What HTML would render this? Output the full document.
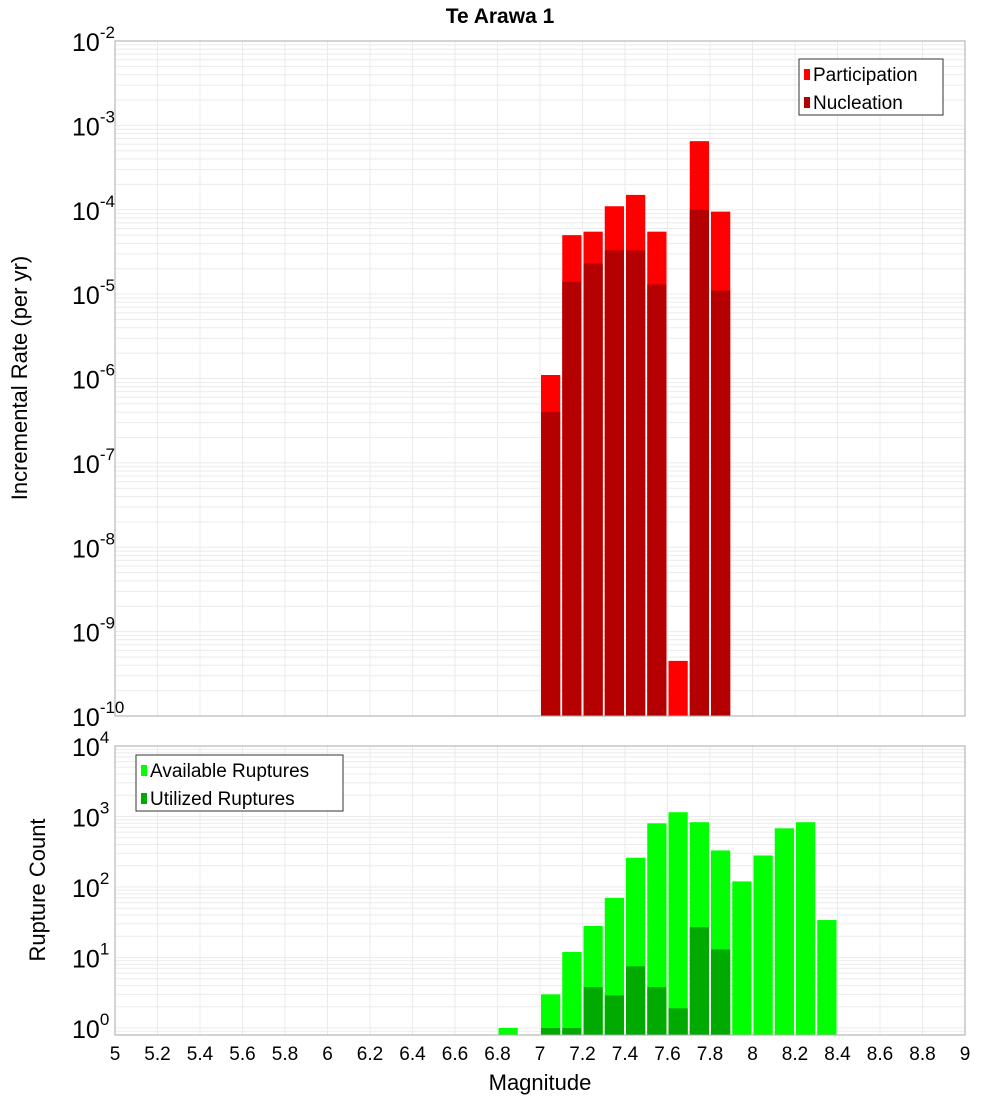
<!DOCTYPE html>
<html><head><meta charset="utf-8"><style>
body{margin:0;background:#fff;}
svg{font-family:"Liberation Sans","DejaVu Sans",sans-serif;}
</style></head><body>
<svg id="c" width="1000" height="1100" xmlns="http://www.w3.org/2000/svg">
<text x="500" y="23" text-anchor="middle" font-size="21" font-weight="bold">Te Arawa 1</text>
<g id="top"></g>
<g id="bot"></g>
<text transform="translate(27,378) rotate(-90)" text-anchor="middle" font-size="22">Incremental Rate (per yr)</text>
<text transform="translate(45,890) rotate(-90)" text-anchor="middle" font-size="22">Rupture Count</text>
<text x="540" y="1090" text-anchor="middle" font-size="22">Magnitude</text>
</svg>
<script>
const mags = [6.85,6.95,7.05,7.15,7.25,7.35,7.45,7.55,7.65,7.75,7.85,7.95,8.05,8.15,8.25,8.35];
const participation = [0,0,1.1e-6,5e-5,5.5e-5,1.1e-4,1.5e-4,5.5e-5,4.5e-10,6.5e-4,9.5e-5,0,0,0,0,0];
const nucleation = [0,0,4e-7,1.4e-5,2.3e-5,3.3e-5,3.3e-5,1.3e-5,0,1e-4,1.1e-5,0,0,0,0,0];
const available = [1,0,3,12,28,70,260,800,1150,830,330,120,280,680,830,34];
const utilized = [0,0,1,1,3.8,2.9,7.5,3.8,1.9,27,13,0,0,0,0,0];
const xTicks = [5,5.2,5.4,5.6,5.8,6,6.2,6.4,6.6,6.8,7,7.2,7.4,7.6,7.8,8,8.2,8.4,8.6,8.8,9];
const topExps = [-2,-3,-4,-5,-6,-7,-8,-9,-10];
const botExps = [4,3,2,1,0];

const NS="http://www.w3.org/2000/svg";
const X0=115,X1=965;
const xs=m=>X0+(m-5)/4*(X1-X0);
function el(p,t,a){const e=document.createElementNS(NS,t);for(const k in a)e.setAttribute(k,a[k]);p.appendChild(e);return e;}
function plot(g,top,bot,lmax,lmin,name){
  const ys=v=>top+(lmax-Math.log10(v))/(lmax-lmin)*(bot-top);
  const bg=el(g,'rect',{x:X0,y:top,width:X1-X0,height:bot-top,fill:'#fff'});
  
  for(let e=Math.floor(lmin);e<lmax;e++)for(let k=1;k<10;k++){const v=k*Math.pow(10,e);const lv=Math.log10(v);if(lv<lmin||lv>lmax)continue;
    const l=el(g,'line',{x1:X0,x2:X1,y1:ys(v),y2:ys(v),stroke:'#ebebeb','stroke-width':1});
    }
  xTicks.forEach(t=>{const l=el(g,'line',{x1:xs(t),x2:xs(t),y1:top,y2:bot,stroke:'#ebebeb','stroke-width':1});
    });
  return ys;
}
function bars(g,vals,ys,bot,col,name){
  vals.forEach((v,i)=>{if(!(v>0))return;const x=xs(mags[i]-0.05)+1,w=xs(mags[i]+0.05)-xs(mags[i]-0.05)-2;const y=ys(v);
    const r=el(g,'rect',{x:x,y:y,width:w,height:bot-y,fill:col});
    });
}
function frame(g,top,bot,name){const r=el(g,'rect',{x:X0,y:top,width:X1-X0,height:bot-top,fill:'none',stroke:'#aaa'});
  }
function ylabels(g,exps,ys,name){exps.forEach(e=>{const y=ys(Math.pow(10,e));
  const t=el(g,'text',{x:72,y:y+10,'font-size':25});
  t.textContent='10';const s=el(t,'tspan',{dy:-13,'font-size':17});s.textContent=String(e);});}
function legend(g,x,y,w,items,name){const r=el(g,'rect',{x:x,y:y,width:w,height:56,fill:'#fff',stroke:'#333'});
  
  items.forEach((it,i)=>{const s=el(g,'rect',{x:x+5,y:y+10+i*28,width:6,height:11,fill:it[1]});
    
    const t=el(g,'text',{x:x+14,y:y+22+i*28,'font-size':19});t.textContent=it[0];
    });}

const gt=document.getElementById('top'),gb=document.getElementById('bot');
const T0=41,T1=716;
const yt=plot(gt,T0,T1,-2,-10,'rate');
bars(gt,participation,yt,T1,'#ff0000','participation');
bars(gt,nucleation,yt,T1,'#b40000','nucleation');
frame(gt,T0,T1,'rate');ylabels(gt,topExps,yt,'rate');
legend(gt,799,59,144,[['Participation','#ff0000'],['Nucleation','#b40000']],'rate');

const B0=746,B1=1035;const bmin=-7/70.5;
const yb=plot(gb,B0,B1,4,bmin,'count');
bars(gb,available,yb,B1,'#00ff00','available');
bars(gb,utilized,yb,B1,'#00aa00','utilized');
frame(gb,B0,B1,'count');ylabels(gb,botExps,yb,'count');
legend(gb,136,755,207,[['Available Ruptures','#00ff00'],['Utilized Ruptures','#00aa00']],'count');
xTicks.forEach(t=>{const e=el(gb,'text',{x:xs(t),y:1060,'text-anchor':'middle','font-size':19});
  e.textContent=String(t);});
</script>
</body></html>
